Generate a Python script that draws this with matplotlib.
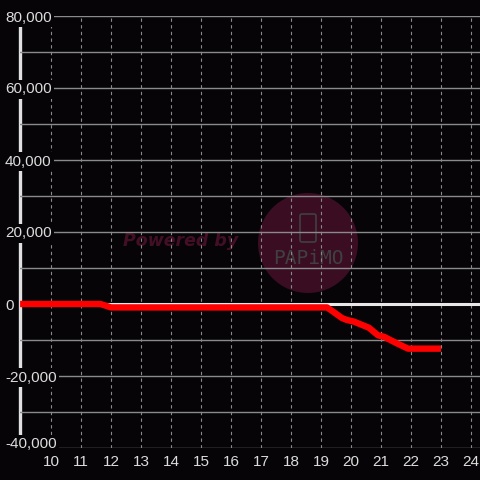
import matplotlib

matplotlib.use("Agg")
import matplotlib.pyplot as plt  # noqa: E402
from matplotlib.patches import Circle, FancyBboxPatch  # noqa: E402
from matplotlib.ticker import FuncFormatter, MultipleLocator  # noqa: E402

# data (hour of day -> cumulative value)
hours = [8.97, 11.65, 12.0, 19.2, 19.4, 19.7, 19.85, 20.1, 20.6, 20.9, 21.1, 21.5, 21.9, 23.0]
values = [0, 0, -950, -950, -2100, -3900, -4400, -4900, -6600, -8700, -9100, -10800, -12400, -12400]

x_ticks = list(range(10, 25))
y_major = [-40000, -20000, 0, 20000, 40000, 60000, 80000]

BG = "#060407"
GRID = "#8a8a8a"
TXT = "#dcdcdc"

plt.rcParams["font.family"] = ["Liberation Sans", "DejaVu Sans"]

fig = plt.figure(figsize=(4.8, 4.8), dpi=100, facecolor=BG)
ax = fig.add_axes([20 / 480, 32 / 480, 460 / 480, 432 / 480])
ax.set_facecolor("none")

# watermark behind the axes
fig.patches.append(Circle((308 / 480, 1 - 243 / 480), 50 / 480, transform=fig.transFigure,
                          facecolor="#3a0d23", edgecolor="none", zorder=-2))
fig.patches.append(FancyBboxPatch((300 / 480, 1 - 242 / 480), 16 / 480, 28 / 480,
                                  boxstyle="round,pad=0,rounding_size=0.004",
                                  transform=fig.transFigure, facecolor="none",
                                  edgecolor="#404040", lw=1.2, zorder=-1))
fig.text(308 / 480, 1 - 258 / 480, "PAPiMO", color="#404040", fontsize=14,
         ha="center", va="center", family="DejaVu Sans Mono", zorder=-1)
fig.text(181 / 480, 1 - 241 / 480, "Powered by", color="#430f25", fontsize=12.5,
         fontweight="bold", fontstyle="italic", family="DejaVu Sans",
         ha="center", va="center", zorder=-1)

ax.axhline(0, color="#e8e8e8", lw=2.2, zorder=1.8)
ax.plot(hours, values, color="#ff0000", lw=4.6, solid_joinstyle="round",
        solid_capstyle="butt", zorder=3)

ax.set_xlim(8.967, 24.3)
ax.set_ylim(-40000, 80000)
ax.set_xticks(x_ticks)
ax.set_yticks(y_major)
ax.yaxis.set_minor_locator(MultipleLocator(10000))
ax.yaxis.set_major_formatter(FuncFormatter(lambda v, _: f"{int(v):,}"))

ax.grid(axis="y", which="both", color=GRID, lw=1.0, ls="-")
ax.grid(axis="x", which="major", color=GRID, lw=0.8, ls=(0, (3, 3)))

ax.tick_params(axis="x", length=0, pad=5, colors=TXT, labelsize=11)
ax.tick_params(axis="y", which="both", length=0, pad=10.8, colors=TXT, labelsize=11)
for lbl in ax.get_yticklabels():
    lbl.set_horizontalalignment("left")
    lbl.set_bbox(dict(facecolor=BG, edgecolor="none", pad=1.5))
# bottom label sits above its gridline so it clears the x labels
ax.get_yticklabels()[0].set_verticalalignment("baseline")

for side in ["top", "right", "bottom"]:
    ax.spines[side].set_visible(False)
ax.spines["left"].set_color("#e0e0e0")
ax.spines["left"].set_linewidth(2.4)
ax.spines["left"].set_zorder(1.0)

fig.savefig("out.png", dpi=100, facecolor=BG)
